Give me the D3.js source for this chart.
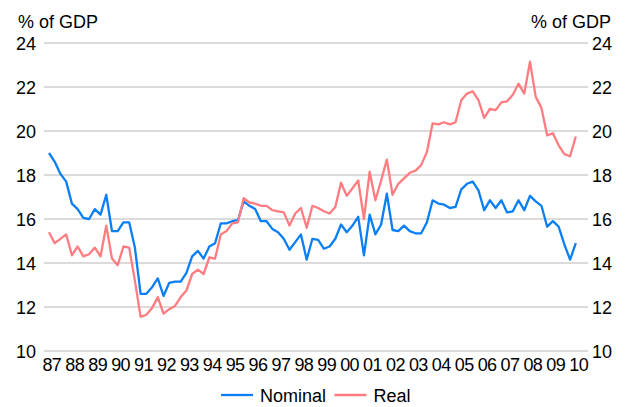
<!DOCTYPE html>
<html>
<head>
<meta charset="utf-8">
<script src="https://cdn.jsdelivr.net/npm/d3@7"></script>
<style>
  html, body { margin: 0; padding: 0; background: #fff; }
  svg { display: block; font-family: "Liberation Sans", Arial, sans-serif; }
</style>
</head>
<body>
<svg id="chart" width="628" height="407"></svg>
<script>
// Quarterly series, 1987 Q1 to 2010 Q1 (% of GDP)
const nominal = [
  19.0, 18.6, 18.05, 17.7,
  16.7, 16.45, 16.05, 16.0,
  16.45, 16.2, 17.1, 15.45,
  15.45, 15.85, 15.85, 14.7,
  12.6, 12.6, 12.9, 13.3,
  12.5, 13.1, 13.15, 13.15,
  13.55, 14.3, 14.55, 14.2,
  14.75, 14.9, 15.8, 15.8,
  15.9, 15.95, 16.8, 16.6,
  16.45, 15.9, 15.9, 15.55,
  15.4, 15.1, 14.6, 14.95,
  15.3, 14.15, 15.1, 15.05,
  14.65, 14.75, 15.1, 15.75,
  15.4, 15.7, 16.1, 14.35,
  16.2, 15.3, 15.75, 17.15,
  15.5, 15.45, 15.7, 15.45,
  15.35, 15.35, 15.85, 16.85,
  16.7, 16.65, 16.5, 16.55,
  17.35, 17.6, 17.7, 17.3,
  16.4, 16.85, 16.5, 16.85,
  16.3, 16.35, 16.85, 16.4,
  17.05, 16.8, 16.6, 15.65,
  15.9, 15.65, 14.85, 14.15,
  14.9
];
const real = [
  15.4, 14.9, 15.1, 15.3,
  14.35, 14.75, 14.3, 14.4,
  14.7, 14.3, 15.7, 14.2,
  13.9, 14.75, 14.7, 13.2,
  11.55, 11.65, 11.95, 12.45,
  11.7, 11.9, 12.05, 12.45,
  12.75, 13.5, 13.7, 13.5,
  14.25, 14.2, 15.3, 15.45,
  15.8, 15.85, 16.95, 16.75,
  16.7, 16.6, 16.6, 16.4,
  16.35, 16.3, 15.7, 16.25,
  16.5, 15.6, 16.6, 16.5,
  16.35, 16.25, 16.55, 17.65,
  17.05, 17.4, 17.75, 16.0,
  18.15, 16.85, 17.75, 18.7,
  17.1, 17.6, 17.85, 18.1,
  18.2, 18.45, 19.05, 20.35,
  20.3, 20.4, 20.3, 20.4,
  21.4, 21.7, 21.8, 21.4,
  20.6, 21.0, 20.95, 21.3,
  21.35, 21.65, 22.15, 21.7,
  23.15, 21.55, 21.05, 19.8,
  19.9, 19.35, 18.95, 18.85,
  19.75
];
const yearLabels = ["87","88","89","90","91","92","93","94","95","96","97","98",
                    "99","00","01","02","03","04","05","06","07","08","09","10"];
const yTicks = [10, 12, 14, 16, 18, 20, 22, 24];
const seriesNames = ["Nominal", "Real"];
const seriesColors = ["#0a7ff5", "#ff7c80"];

const svg = d3.select("#chart");
const font = 18;

const x = d3.scaleLinear().domain([0, nominal.length - 1]).range([49, 575.8]);
const y = d3.scaleLinear().domain([10, 24]).range([351, 43]);
const step = x(1) - x(0);

// horizontal gridlines
svg.append("g")
  .selectAll("line")
  .data(yTicks)
  .join("line")
  .attr("x1", 44).attr("x2", 588)
  .attr("y1", d => y(d)).attr("y2", d => y(d))
  .attr("stroke", "#cfcfcf")
  .attr("stroke-width", 1.5);

// left and right value axes
const leftAxis = d3.axisLeft(y).tickValues(yTicks).tickSize(0).tickPadding(0);
const rightAxis = d3.axisRight(y).tickValues(yTicks).tickSize(0).tickPadding(0);

const gl = svg.append("g").attr("transform", "translate(36,1)").call(leftAxis);
const gr = svg.append("g").attr("transform", "translate(592,1)").call(rightAxis);
[gl, gr].forEach(g => {
  g.select(".domain").remove();
  g.selectAll("text")
    .attr("font-size", font)
    .attr("font-family", "Liberation Sans, Arial, sans-serif")
    .attr("fill", "#000");
});

// year labels along the bottom (one per first quarter)
svg.append("g")
  .selectAll("text")
  .data(yearLabels)
  .join("text")
  .attr("x", (d, i) => x(i * 4) + step * 0.5)
  .attr("y", 371)
  .attr("text-anchor", "middle")
  .attr("font-size", font)
  .attr("letter-spacing", "-0.6")
  .text(d => d);

// axis titles
svg.append("text").attr("x", 18).attr("y", 28).attr("font-size", font).text("% of GDP");
svg.append("text").attr("x", 611).attr("y", 28).attr("text-anchor", "end").attr("font-size", font).text("% of GDP");

// series lines
const line = d3.line().x((d, i) => x(i)).y(d => y(d));
[nominal, real].forEach((s, k) => {
  svg.append("path")
    .datum(s)
    .attr("fill", "none")
    .attr("stroke", seriesColors[k])
    .attr("stroke-width", 2.3)
    .attr("stroke-linejoin", "round")
    .attr("d", line);
});

// legend
const legendPos = [221, 334.5];
const legend = svg.append("g");
seriesNames.forEach((name, k) => {
  legend.append("line")
    .attr("x1", legendPos[k]).attr("x2", legendPos[k] + 32)
    .attr("y1", 395).attr("y2", 395)
    .attr("stroke", seriesColors[k]).attr("stroke-width", 2.3);
  legend.append("text")
    .attr("x", legendPos[k] + 39).attr("y", 401.5)
    .attr("font-size", font)
    .text(name);
});
</script>
</body>
</html>
